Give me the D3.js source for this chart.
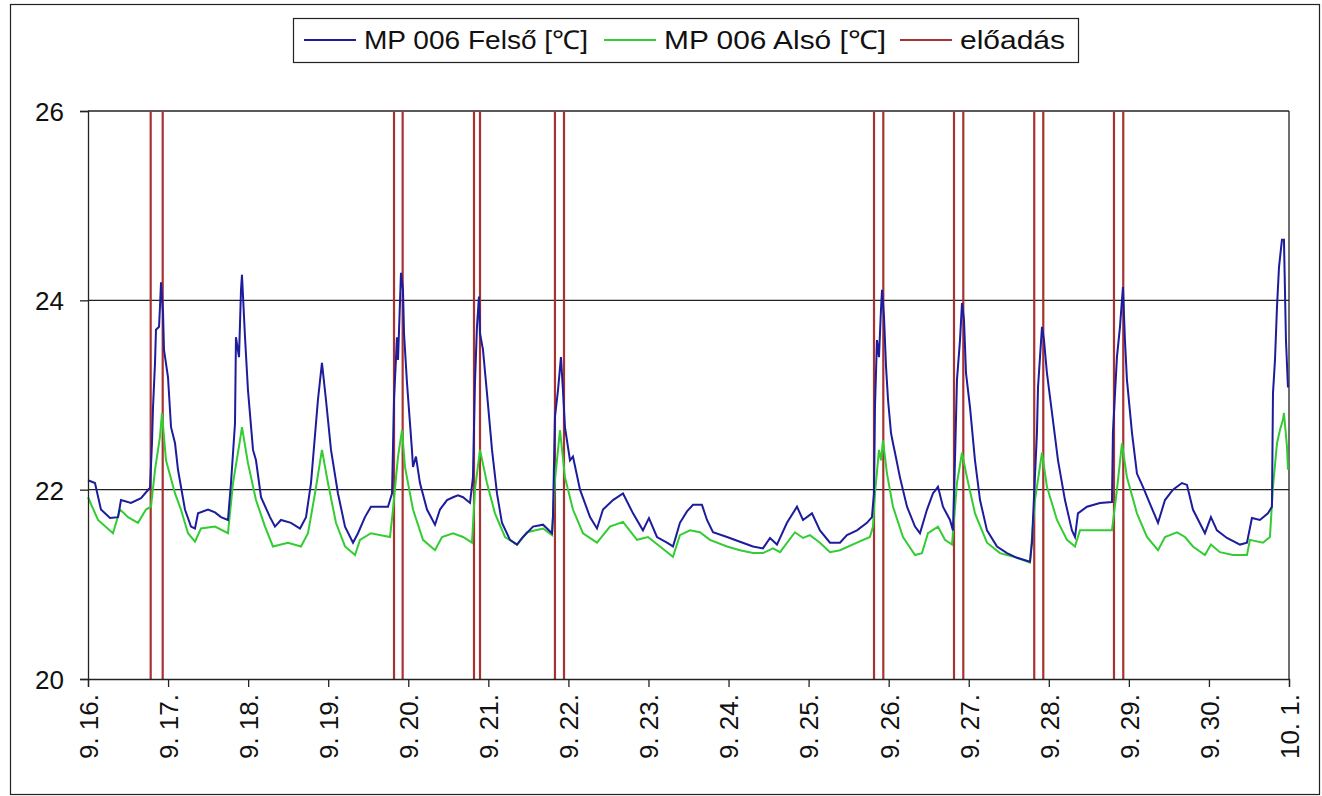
<!DOCTYPE html>
<html lang="hu">
<head>
<meta charset="utf-8">
<title>MP 006</title>
<script src="https://cdn.jsdelivr.net/npm/d3@7"></script>
<style>
  body { margin: 0; background: #fff; }
  text { font-family: "Liberation Sans", Arial, sans-serif; }
</style>
</head>
<body>
<script>
// days counted from 9.16. 00:00
var dayLabels = ["9. 16.", "9. 17.", "9. 18.", "9. 19.", "9. 20.", "9. 21.", "9. 22.", "9. 23.",
                 "9. 24.", "9. 25.", "9. 26.", "9. 27.", "9. 28.", "9. 29.", "9. 30.", "10. 1."];
var yTicks = [20, 22, 24, 26];

// MP 006 Felső [℃]
var felsoT = [0.000,0.087,0.162,0.275,0.375,0.412,0.537,0.662,0.774,0.799,0.812,0.837,0.849,0.887,0.899,0.912,0.937,0.949,0.999,1.037,
  1.087,1.124,1.211,1.286,1.336,1.374,1.499,1.586,1.661,1.748,1.786,1.836,1.848,1.886,1.911,1.923,1.961,1.998,2.061,2.098,
  2.161,2.273,2.335,2.410,2.535,2.648,2.723,2.785,2.872,2.922,2.972,3.035,3.122,3.210,3.310,3.372,3.459,3.534,3.747,3.797,
  3.822,3.859,3.872,3.909,3.934,3.947,3.984,4.046,4.059,4.096,4.146,4.234,4.334,4.396,4.484,4.559,4.621,4.684,4.771,4.808,
  4.833,4.858,4.883,4.896,4.933,4.983,5.046,5.108,5.170,5.270,5.358,5.433,5.558,5.683,5.795,5.807,5.832,5.870,5.907,5.932,
  5.957,6.020,6.057,6.145,6.270,6.357,6.432,6.557,6.682,6.807,6.931,7.006,7.106,7.231,7.306,7.331,7.393,7.481,7.556,7.668,
  7.731,7.806,7.981,8.143,8.305,8.430,8.518,8.605,8.730,8.855,8.930,9.042,9.142,9.267,9.392,9.479,9.604,9.729,9.791,9.816,
  9.829,9.854,9.879,9.904,9.917,9.942,9.967,9.992,10.029,10.054,10.079,10.141,10.229,10.329,10.391,10.479,10.553,10.616,10.678,10.766,
  10.803,10.828,10.853,10.891,10.916,10.941,10.966,11.016,11.078,11.141,11.228,11.353,11.478,11.603,11.765,11.790,11.802,11.852,11.865,11.915,
  11.940,11.977,12.040,12.115,12.202,12.289,12.327,12.364,12.477,12.639,12.789,12.801,12.851,12.889,12.926,12.951,12.976,13.039,13.101,13.176,
  13.264,13.364,13.451,13.551,13.663,13.726,13.800,13.950,14.025,14.100,14.225,14.388,14.475,14.537,14.637,14.737,14.787,14.800,14.825,14.850,
  14.875,14.912,14.937,14.962,14.987];
var felsoV = [22.10,22.07,21.79,21.70,21.71,21.89,21.86,21.91,22.02,22.49,22.87,23.34,23.69,23.72,23.93,24.19,23.87,23.48,23.19,22.66,
  22.49,22.21,21.79,21.61,21.59,21.75,21.79,21.76,21.71,21.68,22.07,22.70,23.61,23.40,24.11,24.27,23.61,23.05,22.42,22.31,
  21.92,21.71,21.61,21.68,21.65,21.59,21.71,22.07,22.95,23.34,22.95,22.42,21.96,21.61,21.44,21.54,21.71,21.82,21.82,21.96,
  22.95,23.61,23.37,24.29,24.11,23.65,23.13,22.42,22.24,22.35,22.07,21.79,21.63,21.79,21.89,21.92,21.94,21.92,21.86,22.13,
  23.13,23.72,24.04,23.65,23.48,23.02,22.42,21.96,21.65,21.47,21.42,21.50,21.61,21.63,21.54,21.71,22.77,23.05,23.40,23.05,
  22.66,22.31,22.35,22.00,21.71,21.59,21.79,21.89,21.96,21.75,21.57,21.70,21.50,21.44,21.40,21.47,21.65,21.77,21.84,21.84,
  21.68,21.55,21.50,21.45,21.40,21.38,21.49,21.42,21.65,21.82,21.68,21.75,21.57,21.44,21.44,21.52,21.57,21.65,21.71,21.96,
  22.87,23.58,23.40,23.90,24.11,23.82,23.30,22.95,22.60,22.49,22.39,22.13,21.82,21.61,21.54,21.79,21.96,22.03,21.82,21.68,
  21.57,22.31,23.16,23.58,23.97,23.79,23.23,22.87,22.31,21.89,21.57,21.40,21.33,21.28,21.24,21.44,21.68,22.60,23.08,23.72,
  23.58,23.23,22.81,22.31,21.89,21.57,21.50,21.75,21.82,21.86,21.87,22.60,23.40,23.72,24.14,23.58,23.16,22.60,22.17,22.03,
  21.85,21.65,21.89,22.00,22.07,22.05,21.79,21.54,21.71,21.57,21.49,21.42,21.44,21.70,21.68,21.75,21.82,23.02,23.37,23.93,
  24.35,24.64,24.64,23.58,23.08];

// MP 006 Alsó [℃]
var alsoT = [0.000,0.125,0.312,0.400,0.500,0.624,0.724,0.787,0.837,0.899,0.924,0.974,1.087,1.161,1.249,1.336,1.411,1.586,1.748,1.811,
  1.898,1.923,1.998,2.098,2.211,2.310,2.498,2.660,2.748,2.835,2.922,2.997,3.097,3.210,3.335,3.397,3.534,3.772,3.809,3.872,
  3.922,3.959,4.059,4.184,4.334,4.421,4.559,4.684,4.796,4.833,4.896,4.983,5.083,5.208,5.358,5.483,5.683,5.795,5.832,5.895,
  5.957,6.057,6.182,6.357,6.519,6.682,6.857,6.994,7.144,7.306,7.393,7.518,7.643,7.768,7.981,8.143,8.305,8.430,8.555,8.643,
  8.830,8.930,9.017,9.142,9.267,9.392,9.604,9.766,9.804,9.829,9.879,9.904,9.929,9.979,10.054,10.179,10.329,10.416,10.491,10.616,
  10.703,10.791,10.853,10.916,10.978,11.078,11.228,11.390,11.603,11.765,11.827,11.915,11.977,12.102,12.227,12.327,12.389,12.552,12.789,12.851,
  12.914,12.976,13.101,13.226,13.364,13.451,13.601,13.701,13.800,13.950,14.025,14.137,14.300,14.475,14.512,14.674,14.762,14.800,14.850,14.887,
  14.925,14.937,14.975,14.987];
var alsoV = [21.92,21.68,21.54,21.79,21.71,21.65,21.79,21.82,22.21,22.56,22.81,22.31,21.96,21.79,21.54,21.45,21.59,21.61,21.54,22.07,
  22.52,22.66,22.28,21.89,21.61,21.40,21.44,21.40,21.54,21.96,22.42,22.07,21.65,21.40,21.31,21.47,21.54,21.50,21.79,22.35,
  22.63,22.24,21.79,21.47,21.36,21.50,21.54,21.50,21.44,22.00,22.42,22.07,21.75,21.50,21.42,21.55,21.59,21.52,22.10,22.63,
  22.13,21.79,21.54,21.44,21.61,21.66,21.47,21.50,21.40,21.29,21.52,21.57,21.55,21.47,21.40,21.36,21.33,21.33,21.38,21.34,
  21.55,21.49,21.52,21.44,21.34,21.36,21.44,21.50,21.61,21.96,22.42,22.31,22.52,22.17,21.82,21.50,21.31,21.33,21.54,21.61,
  21.47,21.42,22.07,22.39,22.13,21.75,21.44,21.33,21.28,21.23,21.89,22.39,22.03,21.68,21.47,21.40,21.57,21.57,21.57,22.00,
  22.49,22.13,21.75,21.50,21.36,21.50,21.55,21.50,21.40,21.31,21.42,21.34,21.31,21.31,21.47,21.44,21.50,22.03,22.49,22.63,
  22.74,22.81,22.45,22.21];

// előadás (start / end, days)
var eloadasStart = [0.783, 3.822, 4.821, 5.832, 9.817, 10.816, 11.818, 12.814];
var eloadasEnd   = [0.933, 3.930, 4.896, 5.945, 9.933, 10.932, 11.931, 12.930];

var w = 1322, h = 796;
var margin = {left: 88, right: 33, top: 111, bottom: 117};

var svg = d3.select("body").append("svg")
    .attr("width", w)
    .attr("height", h);

// outer frame
svg.append("rect")
    .attr("x", 10.5).attr("y", 4.5)
    .attr("width", 1309).attr("height", 790)
    .attr("fill", "none").attr("stroke", "#222").attr("stroke-width", 1.2);

var xScale = d3.scaleLinear()
    .domain([0, dayLabels.length - 1])
    .range([margin.left, w - margin.right]);
var yScale = d3.scaleLinear()
    .domain([yTicks[0], yTicks[yTicks.length - 1]])
    .range([h - margin.bottom, margin.top]);

// grid
svg.selectAll("line.grid")
    .data(yTicks.slice(1))
    .enter().append("line")
    .attr("class", "grid")
    .attr("x1", xScale(0)).attr("x2", xScale(dayLabels.length - 1))
    .attr("y1", function(d) { return yScale(d); })
    .attr("y2", function(d) { return yScale(d); })
    .attr("stroke", "#222").attr("stroke-width", 1.3);

// right border
svg.append("line")
    .attr("x1", xScale(dayLabels.length - 1)).attr("x2", xScale(dayLabels.length - 1))
    .attr("y1", yScale(26)).attr("y2", yScale(20))
    .attr("stroke", "#222").attr("stroke-width", 1.3);

// előadás lines
var eloadas = eloadasStart.concat(eloadasEnd);
svg.selectAll("line.elo")
    .data(eloadas)
    .enter().append("line")
    .attr("class", "elo")
    .attr("x1", function(d) { return xScale(d); })
    .attr("x2", function(d) { return xScale(d); })
    .attr("y1", yScale(20)).attr("y2", yScale(26))
    .attr("stroke", "#a83232").attr("stroke-width", 2.2);

var line = d3.line()
    .x(function(d) { return xScale(d[0]); })
    .y(function(d) { return yScale(d[1]); });

svg.append("path")
    .datum(d3.zip(alsoT, alsoV))
    .attr("d", line)
    .attr("fill", "none").attr("stroke", "#33cc33").attr("stroke-width", 2);

svg.append("path")
    .datum(d3.zip(felsoT, felsoV))
    .attr("d", line)
    .attr("fill", "none").attr("stroke", "#1c1c9c").attr("stroke-width", 2);

// axes
var yAxis = d3.axisLeft(yScale)
    .tickValues(yTicks)
    .tickSize(8)
    .tickPadding(16)
    .tickFormat(d3.format("d"));
var gy = svg.append("g")
    .attr("transform", "translate(" + margin.left + ",0)")
    .call(yAxis);

var xAxis = d3.axisBottom(xScale)
    .tickValues(d3.range(dayLabels.length))
    .tickSize(8)
    .tickFormat(function(d, i) { return dayLabels[i]; });
var gx = svg.append("g")
    .attr("transform", "translate(0," + (h - margin.bottom) + ")")
    .call(xAxis);

[gx, gy].forEach(function(g) {
    g.select(".domain").attr("stroke", "#222").attr("stroke-width", 1.3);
    g.selectAll(".tick line").attr("stroke", "#222").attr("stroke-width", 1.3);
    g.selectAll("text").attr("font-size", "26px").attr("fill", "#111")
        .attr("font-family", "Liberation Sans, Arial, sans-serif");
});
gy.selectAll("text").attr("dy", "0.36em");
gx.selectAll("text")
    .attr("transform", "rotate(-90)")
    .attr("text-anchor", "end")
    .attr("x", -15)
    .attr("y", 0)
    .attr("dy", "0.36em");

// legend
var legendItems = ["MP 006 Felső [℃]", "MP 006 Alsó [℃]", "előadás"];
var legendColors = ["#1c1c9c", "#33cc33", "#a83232"];
var legendX = [304, 604, 900];
var legendLen = [224, 222, 105];

svg.append("rect")
    .attr("x", 293.5).attr("y", 18.5)
    .attr("width", 785).attr("height", 44)
    .attr("fill", "#fff").attr("stroke", "#222").attr("stroke-width", 1.2);

var leg = svg.selectAll("g.leg")
    .data(legendItems)
    .enter().append("g")
    .attr("class", "leg")
    .attr("transform", function(d, i) { return "translate(" + legendX[i] + ",40)"; });
leg.append("line")
    .attr("x1", 0).attr("x2", 52)
    .attr("stroke", function(d, i) { return legendColors[i]; })
    .attr("stroke-width", 1.8);
leg.append("text")
    .attr("x", 60).attr("dy", "0.36em")
    .attr("font-size", "26px").attr("fill", "#111")
    .attr("textLength", function(d, i) { return legendLen[i]; })
    .attr("lengthAdjust", "spacingAndGlyphs")
    .text(function(d) { return d; });
</script>
</body>
</html>
